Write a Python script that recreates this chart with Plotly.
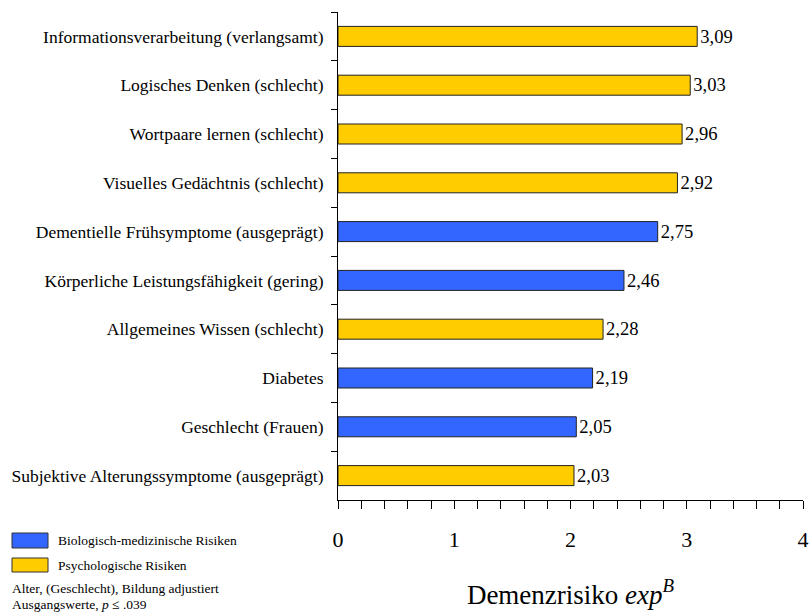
import plotly.graph_objects as go

categories = [
    "Informationsverarbeitung (verlangsamt)",
    "Logisches Denken (schlecht)",
    "Wortpaare lernen (schlecht)",
    "Visuelles Gedächtnis (schlecht)",
    "Dementielle Frühsymptome (ausgeprägt)",
    "Körperliche Leistungsfähigkeit (gering)",
    "Allgemeines Wissen (schlecht)",
    "Diabetes",
    "Geschlecht (Frauen)",
    "Subjektive Alterungssymptome (ausgeprägt)",
]
values = [3.09, 3.03, 2.96, 2.92, 2.75, 2.46, 2.28, 2.19, 2.05, 2.03]
groups = ["psych", "psych", "psych", "psych", "bio", "bio", "psych", "bio", "bio", "psych"]

group_colors = {"bio": "#3366FF", "psych": "#FFCC00"}
legend_labels = {"bio": "Biologisch-medizinische Risiken", "psych": "Psychologische Risiken"}
x_ticks = [0, 1, 2, 3, 4]

FONT = "Liberation Serif"

fig = go.Figure()
fig.add_trace(go.Bar(
    y=categories,
    x=values,
    orientation="h",
    width=0.41,
    marker=dict(color=[group_colors[g] for g in groups], line=dict(color="#222222", width=1)),
    text=[f"{v:.2f}".replace(".", ",") for v in values],
    textposition="outside",
    textfont=dict(family=FONT, size=19.5, color="black"),
    cliponaxis=False,
    showlegend=False,
))

W, H = 809, 615
PL, PR, PT, PB = 338, 803, 12, 500  # plot area in window pixels
L, R, T, B = PL, W - PR, PT, H - PB
pw, ph = PR - PL, PB - PT


def px(x):
    return (x - PL) / pw


def py(y):
    return (PB - y) / ph


shapes = []
annotations = []
for g, y0, y1 in [("bio", 533, 548), ("psych", 558, 572)]:
    shapes.append(dict(type="rect", xref="paper", yref="paper",
                       x0=px(12), x1=px(48), y0=py(y1), y1=py(y0),
                       fillcolor=group_colors[g], line=dict(color="#333333", width=1)))
    annotations.append(dict(xref="paper", yref="paper", x=px(56), y=py((y0 + y1) / 2),
                            text=legend_labels[g], showarrow=False, xanchor="left", yanchor="middle",
                            font=dict(family=FONT, size=13.5, color="black")))
annotations.append(dict(xref="paper", yref="paper", x=px(10), y=py(588),
                        text="Alter, (Geschlecht), Bildung adjustiert", showarrow=False,
                        xanchor="left", yanchor="middle", font=dict(family=FONT, size=13.5, color="black")))
annotations.append(dict(xref="paper", yref="paper", x=px(10), y=py(604),
                        text="Ausgangswerte, <i>p</i> ≤ .039", showarrow=False,
                        xanchor="left", yanchor="middle", font=dict(family=FONT, size=13.5, color="black")))

fig.update_layout(
    width=W, height=H,
    margin=dict(l=L, r=R, t=T, b=B, pad=0, autoexpand=False),
    paper_bgcolor="white", plot_bgcolor="white",
    font=dict(family=FONT, color="black"),
    shapes=shapes,
    annotations=annotations,
    xaxis=dict(
        range=[0, 4], tickvals=x_ticks, ticktext=[str(t) for t in x_ticks],
        ticks="outside", ticklen=8, tickcolor="black", tickwidth=1,
        minor=dict(dtick=0.2, ticks="outside", ticklen=8, tickcolor="black", tickwidth=1),
        showline=True, linecolor="black", linewidth=1,
        showgrid=False, zeroline=False,
        tickfont=dict(family=FONT, size=22, color="black"),
        ticklabelstandoff=12,
        ticklabeloverflow="allow",
        automargin=False,
        title=dict(text="Demenzrisiko <i>exp</i><sup><i>B</i></sup>",
                   font=dict(family=FONT, size=27, color="black"), standoff=33),
    ),
    yaxis=dict(
        categoryorder="array", categoryarray=categories, autorange="reversed",
        tickson="boundaries", ticks="outside", ticklen=6, tickcolor="black",
        showline=True, linecolor="black", linewidth=1,
        showgrid=False, zeroline=False,
        automargin=False,
        tickfont=dict(family=FONT, size=17.5, color="black"),
        ticklabelstandoff=10,
    ),
)

fig.write_html(
    "out.html",
    config={"displayModeBar": False},
    post_script="document.body.style.margin='0';document.body.style.overflow='hidden';",
)
